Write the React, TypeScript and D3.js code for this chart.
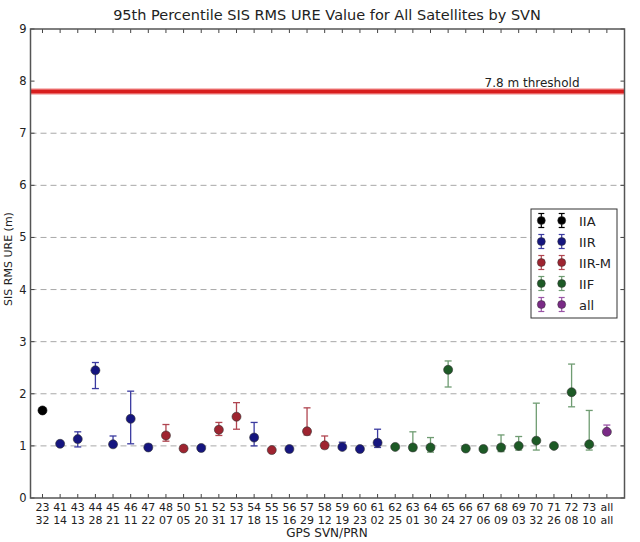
import React from "react";
import * as d3 from "d3";

const svnLabels = ["23","41","43","44","45","46","47","48","50","51","52","53","54","55","56","57","58","59","60","61","62","63","64","65","66","67","68","69","70","71","72","73","all"];
const prnLabels = ["32","14","13","28","21","11","22","07","05","20","31","17","18","15","16","29","12","19","23","02","25","01","30","24","27","06","09","03","32","26","08","10","all"];
const blockType = ["IIA","IIR","IIR","IIR","IIR","IIR","IIR","IIR-M","IIR-M","IIR","IIR-M","IIR-M","IIR","IIR-M","IIR","IIR-M","IIR-M","IIR","IIR","IIR","IIF","IIF","IIF","IIF","IIF","IIF","IIF","IIF","IIF","IIF","IIF","IIF","all"];
const values = [1.68,1.04,1.13,2.45,1.03,1.52,0.97,1.20,0.95,0.96,1.31,1.56,1.16,0.92,0.94,1.28,1.01,0.98,0.94,1.06,0.98,0.97,0.97,2.46,0.95,0.94,0.97,1.00,1.10,1.00,2.03,1.03,1.27];
const upper = [1.68,1.06,1.27,2.60,1.19,2.05,1.03,1.41,0.98,0.98,1.45,1.83,1.45,0.94,0.96,1.73,1.19,1.07,0.96,1.32,1.00,1.27,1.16,2.63,0.97,0.96,1.21,1.18,1.82,1.03,2.57,1.68,1.40];
const lower = [1.68,1.01,0.98,2.10,0.99,1.04,0.94,1.09,0.93,0.94,1.20,1.32,1.00,0.90,0.92,1.21,0.95,0.94,0.92,0.97,0.96,0.91,0.88,2.13,0.93,0.92,0.89,0.92,0.92,0.98,1.75,0.92,1.22];
const legendNames = ["IIA","IIR","IIR-M","IIF","all"];
const yTicks = [0,1,2,3,4,5,6,7,8,9];
const gridValues = [1,2,3,4,5,6,7];
const threshold = 7.8;

const markerColor: Record<string, string> = {
  "IIA": "#000000",
  "IIR": "#15157f",
  "IIR-M": "#9e2430",
  "IIF": "#1d5a26",
  "all": "#7a2a86",
};
const barColor: Record<string, string> = {
  "IIA": "#000000",
  "IIR": "#3a3aa0",
  "IIR-M": "#b04550",
  "IIF": "#6f9c72",
  "all": "#9a55a6",
};

const W = 640, H = 542;
const left = 30.5, right = 624.5, top = 29, bottom = 498;

export default function App() {
  const x = d3.scaleLinear().domain([0.32, 34]).range([left, right]);
  const y = d3.scaleLinear().domain([0, 9]).range([bottom, top]);
  const idx = d3.range(1, svnLabels.length + 1);
  const font = "DejaVu Sans, sans-serif";
  const cap = 3.5;
  return (
    <div style={{ position: "fixed", left: 0, top: 0 }}>
      <svg width={W} height={H} style={{ display: "block", background: "#fff" }} fontFamily={font}>
        {gridValues.map((g) => (
          <line key={g} x1={left} x2={right} y1={y(g)} y2={y(g)} stroke="#a8a8a8" strokeWidth={1} strokeDasharray="6,4" />
        ))}
        <line x1={left} x2={right} y1={y(threshold)} y2={y(threshold)} stroke="#f08080" strokeWidth={6} />
        <line x1={left} x2={right} y1={y(threshold)} y2={y(threshold)} stroke="#d81e1e" strokeWidth={3.5} />
        <text x={579.5} y={86.5} fontSize={12} textAnchor="end" fill="#222">7.8 m threshold</text>
        {/* ticks */}
        {idx.map((i) => (
          <g key={"xt" + i}>
            <line x1={x(i)} x2={x(i)} y1={bottom} y2={bottom - 4} stroke="#444" strokeWidth={1} />
            <line x1={x(i)} x2={x(i)} y1={top} y2={top + 4} stroke="#444" strokeWidth={1} />
            <text x={x(i)} y={510.5} fontSize={11} textAnchor="middle" fill="#222">{svnLabels[i - 1]}</text>
            <text x={x(i)} y={523.5} fontSize={11} textAnchor="middle" fill="#222">{prnLabels[i - 1]}</text>
          </g>
        ))}
        {yTicks.map((t) => (
          <g key={"yt" + t}>
            <line x1={left} x2={left + 4} y1={y(t)} y2={y(t)} stroke="#444" strokeWidth={1} />
            <line x1={right} x2={right - 4} y1={y(t)} y2={y(t)} stroke="#444" strokeWidth={1} />
            <text x={left - 4} y={y(t) + 4} fontSize={11.5} textAnchor="end" fill="#222">{t}</text>
          </g>
        ))}
        {/* error bars and points */}
        {idx.map((i) => {
          const k = i - 1;
          const b = blockType[k];
          const xc = x(i);
          const hasBar = upper[k] - lower[k] > 0.001;
          return (
            <g key={"p" + i}>
              {hasBar && (
                <g stroke={barColor[b]} strokeWidth={1.3}>
                  <line x1={xc} x2={xc} y1={y(upper[k])} y2={y(lower[k])} />
                  <line x1={xc - cap} x2={xc + cap} y1={y(upper[k])} y2={y(upper[k])} />
                  <line x1={xc - cap} x2={xc + cap} y1={y(lower[k])} y2={y(lower[k])} />
                </g>
              )}
              <circle cx={xc} cy={y(values[k])} r={4.5} fill={markerColor[b]} stroke={b === "IIA" ? "#000" : "#333"} strokeWidth={0.6} />
            </g>
          );
        })}
        {/* frame */}
        <rect x={left} y={top} width={right - left} height={bottom - top} fill="none" stroke="#555" strokeWidth={1.5} />
        {/* legend */}
        <rect x={531} y={209} width={86} height={109} fill="#fff" stroke="#333" strokeWidth={1} />
        {legendNames.map((n, j) => {
          const ly = 220.5 + j * 21;
          return (
            <g key={n}>
              {[541.3, 561.7].map((lx) => (
                <g key={lx}>
                  <g stroke={barColor[n]} strokeWidth={1.2}>
                    <line x1={lx} x2={lx} y1={ly - 7} y2={ly + 7} />
                    <line x1={lx - 3} x2={lx + 3} y1={ly - 7} y2={ly - 7} />
                    <line x1={lx - 3} x2={lx + 3} y1={ly + 7} y2={ly + 7} />
                  </g>
                  <circle cx={lx} cy={ly} r={4} fill={markerColor[n]} stroke="#333" strokeWidth={0.5} />
                </g>
              ))}
              <text x={579} y={ly + 5} fontSize={13} fill="#222">{n}</text>
            </g>
          );
        })}
        <text x={327} y={20} fontSize={14.5} textAnchor="middle" fill="#222">95th Percentile SIS RMS URE Value for All Satellites by SVN</text>
        <text x={327} y={537} fontSize={12} textAnchor="middle" fill="#222">GPS SVN/PRN</text>
        <text transform={`translate(12, 259) rotate(-90)`} fontSize={11} textAnchor="middle" fill="#222">SIS RMS URE (m)</text>
      </svg>
    </div>
  );
}
